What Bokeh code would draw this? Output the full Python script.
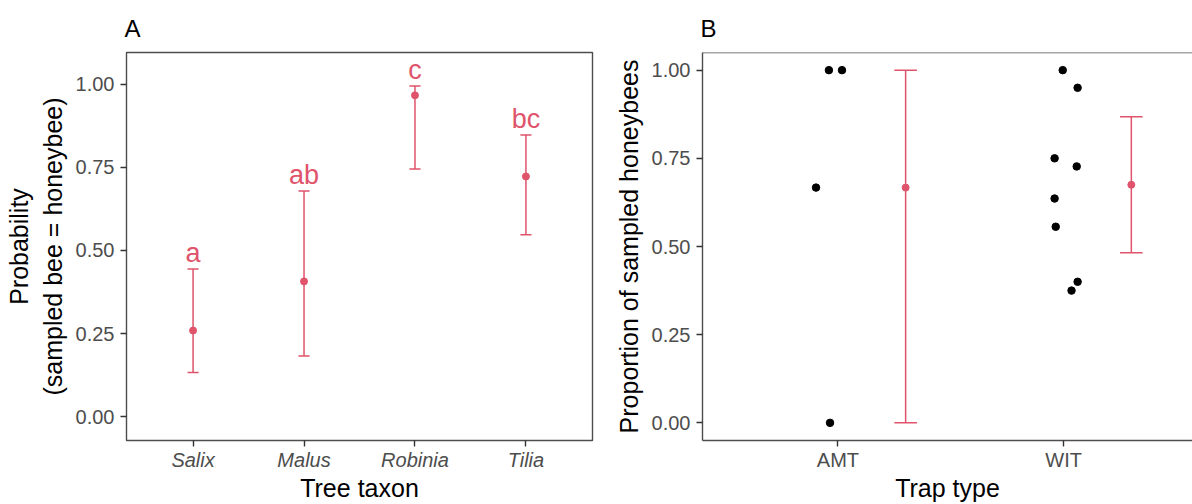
from bokeh.plotting import figure
from bokeh.layouts import row
from bokeh.models import FixedTicker, PrintfTickFormatter, Range1d, Span
from bokeh.core.properties import value
from bokeh.embed import file_html
from bokeh.resources import INLINE

# ---------------- data ----------------
taxa = ["Salix", "Malus", "Robinia", "Tilia"]
taxa_prob = [0.259, 0.407, 0.967, 0.723]
taxa_lower = [0.133, 0.182, 0.745, 0.547]
taxa_upper = [0.444, 0.679, 0.995, 0.848]
taxa_letters = ["a", "ab", "c", "bc"]

traps = ["AMT", "WIT"]
trap_mean = [0.667, 0.675]
trap_lower = [0.0, 0.482]
trap_upper = [1.0, 0.868]
amt_points = [0.667, 1.0, 1.0, 0.0]
amt_jitter = [-0.097, -0.040, 0.018, -0.035]
wit_points = [1.0, 0.95, 0.75, 0.727, 0.636, 0.556, 0.375, 0.40]
wit_jitter = [-0.004, 0.062, -0.040, 0.058, -0.040, -0.035, 0.035, 0.062]

y_ticks = [0.0, 0.25, 0.5, 0.75, 1.0]

# ---------------- style ----------------
FONT = "Liberation Sans"
RED = "#DF536B"
FRAME = "#4D4D4D"
TICKC = "#333333"
LABC = "#4D4D4D"
TICK_PX = "20px"
TITLE_PX = "25px"
TAG_PX = "24px"
LETTER_PX = "27px"
CAP = 0.05      # half width of error-bar caps (x units)
DODGE = 0.3     # error bar offset in panel B


def style(p, tag):
    p.grid.visible = False
    p.background_fill_color = "white"
    p.border_fill_color = "white"
    p.title.text = tag
    p.title.text_font = FONT
    p.title.text_font_size = TAG_PX
    p.title.text_font_style = "normal"
    p.title.text_color = "black"
    p.title.align = "left"
    p.title.offset = -2
    p.title.standoff = 22
    for ax in (p.xaxis[0], p.yaxis[0]):
        ax.axis_line_color = None
        ax.major_tick_line_color = TICKC
        ax.major_tick_line_width = 1.4
        ax.major_tick_out = 6
        ax.major_tick_in = 0
        ax.minor_tick_line_color = None
        ax.major_label_text_font = FONT
        ax.major_label_text_font_size = TICK_PX
        ax.major_label_text_color = LABC
        ax.axis_label_text_font = FONT
        ax.axis_label_text_font_size = TITLE_PX
        ax.axis_label_text_font_style = "normal"
        ax.axis_label_text_color = "black"
        ax.major_label_standoff = 6
        ax.axis_label_standoff = 6
    p.xaxis[0].major_label_standoff = 2
    p.xaxis[0].axis_label_standoff = 0
    p.yaxis[0].ticker = FixedTicker(ticks=y_ticks)
    p.yaxis[0].formatter = PrintfTickFormatter(format="%.2f")


H = 504
# ---------------- panel A ----------------
xa = [i + 1 for i in range(len(taxa))]
pA = figure(width=602, height=H, x_range=Range1d(0.4, 4.6), y_range=Range1d(-0.072, 1.096),
            output_backend="svg", toolbar_location=None,
            min_border_left=126, min_border_right=10, min_border_top=52, min_border_bottom=64)
style(pA, "A")
pA.outline_line_color = FRAME
pA.outline_line_width = 1.4
pA.xaxis[0].ticker = FixedTicker(ticks=xa)
pA.xaxis[0].major_label_overrides = {x: t for x, t in zip(xa, taxa)}
pA.xaxis[0].major_label_text_font_style = "italic"
pA.xaxis[0].axis_label = "Tree taxon"
pA.yaxis[0].axis_label = "Probability\n(sampled bee = honeybee)"

pA.segment(x0=xa, y0=taxa_lower, x1=xa, y1=taxa_upper, line_color=RED, line_width=1.5)
pA.segment(x0=[x - CAP for x in xa], y0=taxa_upper, x1=[x + CAP for x in xa], y1=taxa_upper,
           line_color=RED, line_width=1.5)
pA.segment(x0=[x - CAP for x in xa], y0=taxa_lower, x1=[x + CAP for x in xa], y1=taxa_lower,
           line_color=RED, line_width=1.5)
pA.scatter(x=xa, y=taxa_prob, size=7, color=RED)
pA.text(x=xa, y=taxa_upper, text=taxa_letters, text_align="center", text_baseline="bottom",
        text_font=value(FONT), text_font_size=LETTER_PX, text_color=RED, y_offset=-1)

# ---------------- panel B ----------------
xb = [i + 1 for i in range(len(traps))]
pB = figure(width=590, height=H, x_range=Range1d(0.4, 2.571), y_range=Range1d(-0.05, 1.05),
            output_backend="svg", toolbar_location=None,
            min_border_left=100, min_border_right=0, min_border_top=52, min_border_bottom=64)
style(pB, "B")
pB.outline_line_color = None
pB.xaxis[0].axis_line_color = FRAME
pB.xaxis[0].axis_line_width = 1.4
pB.yaxis[0].axis_line_color = FRAME
pB.yaxis[0].axis_line_width = 1.4
pB.add_layout(Span(location=pB.y_range.end, dimension="width", line_color=FRAME, line_width=1.4))
pB.xaxis[0].ticker = FixedTicker(ticks=xb)
pB.xaxis[0].major_label_overrides = {x: t for x, t in zip(xb, traps)}
pB.xaxis[0].axis_label = "Trap type"
pB.yaxis[0].axis_label = "Proportion of sampled honeybees"

pB.scatter(x=[xb[0] + j for j in amt_jitter], y=amt_points, size=7.5, color="black")
pB.scatter(x=[xb[1] + j for j in wit_jitter], y=wit_points, size=7.5, color="black")

xe = [x + DODGE for x in xb]
pB.segment(x0=xe, y0=trap_lower, x1=xe, y1=trap_upper, line_color=RED, line_width=1.5)
pB.segment(x0=[x - CAP for x in xe], y0=trap_upper, x1=[x + CAP for x in xe], y1=trap_upper,
           line_color=RED, line_width=1.5)
pB.segment(x0=[x - CAP for x in xe], y0=trap_lower, x1=[x + CAP for x in xe], y1=trap_lower,
           line_color=RED, line_width=1.5)
pB.scatter(x=xe, y=trap_mean, size=7, color=RED)

layout = row(pA, pB)
open("out.html", "w").write(file_html(layout, INLINE))
